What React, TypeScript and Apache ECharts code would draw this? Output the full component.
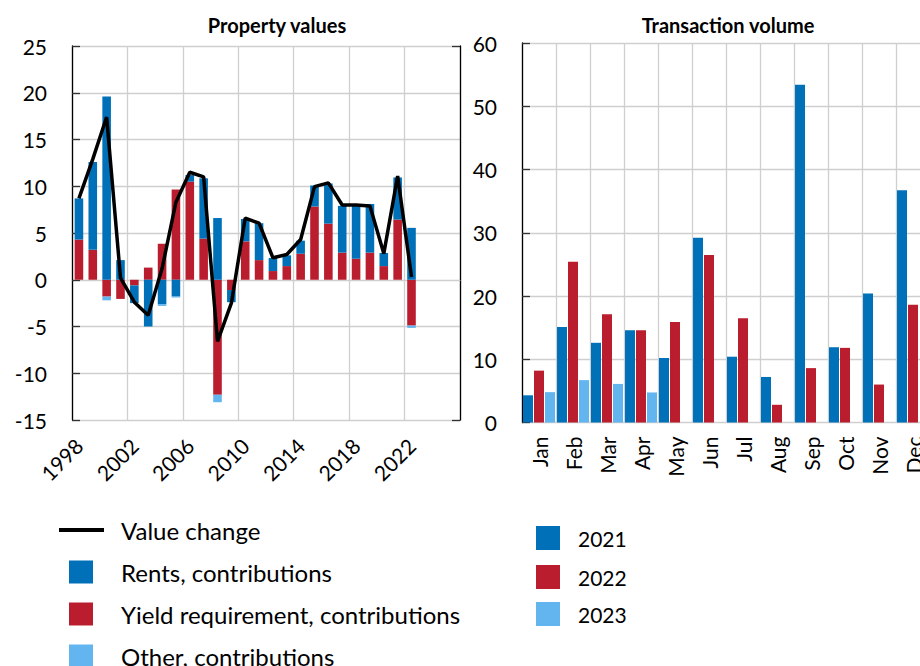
import React, { useEffect, useRef } from "react";
import * as echarts from "echarts";

const years = [
  "1998", "1999", "2000", "2001", "2002", "2003", "2004", "2005", "2006", "2007",
  "2008", "2009", "2010", "2011", "2012", "2013", "2014", "2015", "2016", "2017",
  "2018", "2019", "2020", "2021", "2022", "2023", "2024", "2025",
];
const rents = [4.4, 9.4, 19.6, 2.1, -1.9, -5.0, -2.6, -1.8, 0.7, 6.45, 6.6, -1.3, 2.4, 3.95, 1.4, 1.15, 1.4, 2.25, 4.3, 5.0, 5.65, 5.2, 1.4, 4.5, 5.55];
const yieldReq = [4.3, 3.2, -1.8, -2.05, -0.6, 1.3, 3.85, 9.65, 10.5, 4.4, -12.3, -1.1, 4.1, 2.1, 0.93, 1.46, 2.78, 7.83, 6.0, 2.9, 2.25, 2.9, 1.46, 6.44, -4.9];
const other = [null, null, -0.4, null, null, null, -0.2, -0.1, null, null, -0.8, null, null, null, null, null, null, null, null, null, null, null, null, null, -0.25];
const valueChange = [8.7, 12.9, 17.4, 0.2, -2.4, -3.8, 1.2, 8.3, 11.5, 11.0, -6.6, -2.5, 6.6, 6.05, 2.35, 2.7, 4.3, 9.96, 10.36, 8.0, 8.0, 7.9, 2.8, 11.1, 0.3];

const months = ["Jan", "Feb", "Mar", "Apr", "May", "Jun", "Jul", "Aug", "Sep", "Oct", "Nov", "Dec"];
const vol2021 = [4.3, 15.1, 12.6, 14.6, 10.2, 29.2, 10.4, 7.2, 53.4, 11.9, 20.4, 36.7];
const vol2022 = [8.2, 25.4, 17.1, 14.6, 15.9, 26.5, 16.5, 2.8, 8.6, 11.8, 6.0, 18.6];
const vol2023 = [4.8, 6.7, 6.1, 4.75, null, null, null, null, null, null, null, null];

const BLUE = "#0070B8";
const RED = "#BA1E2E";
const LIGHT = "#63B5F0";
const GRID = "#cfcfcf";
const FONT = "Lato, 'Open Sans', sans-serif";

function legendItem(name: string, left: number, top: number, opts: any) {
  return {
    data: [name],
    left,
    top,
    padding: 0,
    icon: "rect",
    selectedMode: false,
    ...opts,
  };
}

export default function App() {
  const ref = useRef<HTMLDivElement>(null);
  useEffect(() => {
    if (!ref.current) return;
    const chart = echarts.init(ref.current, null, { renderer: "svg" });
    const leftText = { fontFamily: FONT, fontSize: 24, color: "#000", padding: [0, 0, 0, 23] };
    const rightText = { fontFamily: FONT, fontSize: 21, color: "#000", padding: [0, 0, 0, 13] };
    const option: any = {
      animation: false,
      textStyle: { fontFamily: FONT, color: "#000" },
      title: [
        {
          text: "Property values",
          left: 272,
          top: 10,
          textAlign: "center",
          textStyle: { fontFamily: FONT, fontSize: 20, fontWeight: "bold", color: "#000" },
        },
        {
          text: "Transaction volume",
          left: 723,
          top: 10,
          textAlign: "center",
          textStyle: { fontFamily: FONT, fontSize: 20, fontWeight: "bold", color: "#000" },
        },
      ],
      legend: [
        legendItem("Value change", 59, 518, {
          itemWidth: 45,
          itemHeight: 4,
          textStyle: { ...leftText, padding: [0, 0, 0, 12] },
        }),
        legendItem("Rents, contributions", 69, 560, { itemWidth: 24, itemHeight: 23, textStyle: leftText }),
        legendItem("Yield requirement, contributions", 69, 602, { itemWidth: 24, itemHeight: 23, textStyle: leftText }),
        legendItem("Other, contributions", 69, 644, { itemWidth: 24, itemHeight: 23, textStyle: leftText }),
        legendItem("2021", 536, 526, { itemWidth: 24, itemHeight: 24, textStyle: rightText }),
        legendItem("2022", 536, 565, { itemWidth: 24, itemHeight: 24, textStyle: rightText }),
        legendItem("2023", 536, 602, { itemWidth: 24, itemHeight: 24, textStyle: rightText }),
      ],
      grid: [
        { left: 72, top: 46, width: 388, height: 374, containLabel: false, outerBoundsMode: "none" },
        { left: 522, top: 43, width: 408, height: 379.5, containLabel: false, outerBoundsMode: "none" },
      ],
      xAxis: [
        {
          type: "category",
          gridIndex: 0,
          data: years,
          boundaryGap: true,
          axisLine: { show: true, lineStyle: { color: GRID, width: 1 } },
          axisTick: { show: false, interval: 3 },
          axisLabel: {
            interval: 3,
            rotate: 45,
            fontSize: 21,
            color: "#000",
            fontFamily: FONT,
            margin: 22,
          },
          splitLine: { show: true, interval: 3, lineStyle: { color: GRID, width: 1.3 } },
        },
        {
          type: "category",
          gridIndex: 1,
          data: months,
          boundaryGap: true,
          axisLine: { show: true, lineStyle: { color: GRID, width: 1 } },
          axisTick: { show: false },
          axisLabel: {
            interval: 0,
            rotate: 90,
            fontSize: 21,
            color: "#000",
            fontFamily: FONT,
            margin: 14,
          },
          splitLine: { show: true, interval: 0, lineStyle: { color: GRID, width: 1.3 } },
        },
      ],
      yAxis: [
        {
          type: "value",
          gridIndex: 0,
          min: -15,
          max: 25,
          interval: 5,
          position: "left",
          axisLine: { show: true, lineStyle: { color: "#000", width: 1.3 } },
          axisTick: { show: true, inside: true, length: 8, lineStyle: { color: "#333", width: 1.3 } },
          axisLabel: { fontSize: 21, color: "#000", fontFamily: FONT, margin: 25 },
          splitLine: { show: true, lineStyle: { color: GRID, width: 1.3 } },
        },
        {
          type: "value",
          gridIndex: 0,
          min: 0,
          max: 1,
          interval: 1,
          position: "right",
          axisLine: { show: true, lineStyle: { color: "#000", width: 1.3 } },
          axisTick: { show: true, inside: true, length: 8, lineStyle: { color: "#333", width: 1.3 } },
          axisLabel: { show: false },
          splitLine: { show: false },
        },
        {
          type: "value",
          gridIndex: 1,
          min: 0,
          max: 60,
          interval: 10,
          position: "left",
          axisLine: { show: true, lineStyle: { color: "#000", width: 1.3 } },
          axisTick: { show: true, inside: true, length: 8, lineStyle: { color: "#333", width: 1.3 } },
          axisLabel: { fontSize: 21, color: "#000", fontFamily: FONT, margin: 25 },
          splitLine: { show: true, lineStyle: { color: GRID, width: 1.3 } },
        },
      ],
      series: [
        {
          name: "Yield requirement, contributions",
          type: "bar",
          xAxisIndex: 0,
          yAxisIndex: 0,
          stack: "pv",
          data: yieldReq,
          itemStyle: { color: RED },
          barCategoryGap: "38%",
        },
        {
          name: "Rents, contributions",
          type: "bar",
          xAxisIndex: 0,
          yAxisIndex: 0,
          stack: "pv",
          data: rents,
          itemStyle: { color: BLUE },
          barCategoryGap: "38%",
        },
        {
          name: "Other, contributions",
          type: "bar",
          xAxisIndex: 0,
          yAxisIndex: 0,
          stack: "pv",
          data: other,
          itemStyle: { color: LIGHT },
          barCategoryGap: "38%",
        },
        {
          name: "Value change",
          type: "line",
          xAxisIndex: 0,
          yAxisIndex: 0,
          data: valueChange,
          symbol: "none",
          z: 5,
          itemStyle: { color: "#000" },
          lineStyle: { color: "#000", width: 3.5 },
        },
        {
          name: "2021",
          type: "bar",
          xAxisIndex: 1,
          yAxisIndex: 2,
          data: vol2021,
          itemStyle: { color: BLUE },
          barGap: "10%",
          barCategoryGap: "6%",
        },
        {
          name: "2022",
          type: "bar",
          xAxisIndex: 1,
          yAxisIndex: 2,
          data: vol2022,
          itemStyle: { color: RED },
          barGap: "10%",
          barCategoryGap: "6%",
        },
        {
          name: "2023",
          type: "bar",
          xAxisIndex: 1,
          yAxisIndex: 2,
          data: vol2023,
          itemStyle: { color: LIGHT },
          barGap: "10%",
          barCategoryGap: "6%",
        },
      ],
    };
    chart.setOption(option);
    return () => chart.dispose();
  }, []);
  return (
    <div
      ref={ref}
      style={{ position: "fixed", left: 0, top: 0, width: 920, height: 666, background: "#fff" }}
    />
  );
}
